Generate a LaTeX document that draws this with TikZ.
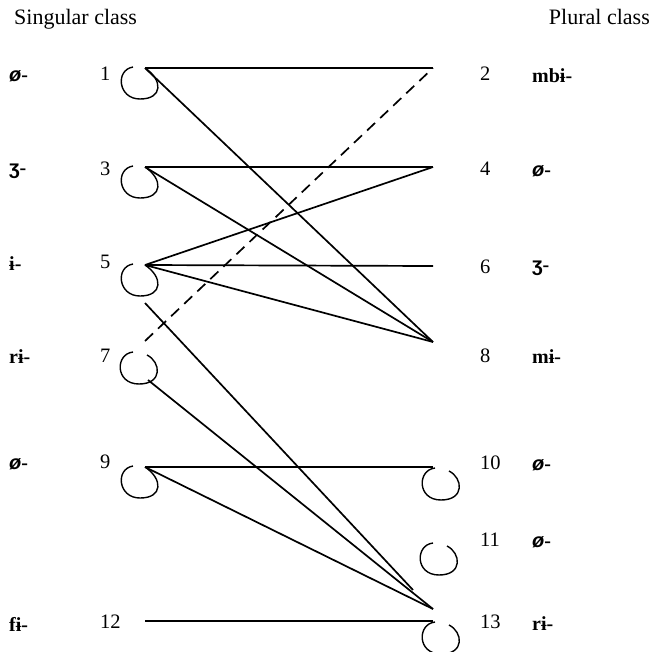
\documentclass[tikz,border=0pt]{standalone}
\usepackage{fontspec}
\setmainfont{Liberation Serif}
\newfontfamily\ipasans{Liberation Sans}
\usetikzlibrary{positioning}
\newcommand\nullpre{{\ipasans\itshape ø}}
\newcommand\ezhpre{{\ipasans ʒ}}

\begin{document}
\begin{tikzpicture}[x=1pt,y=-1pt,
 num/.style={anchor=west,inner sep=0pt,font=\fontsize{20.5}{24}\selectfont},
 affix/.style={anchor=west,inner sep=0pt,font=\fontsize{20}{24}\selectfont\bfseries},
 title/.style={anchor=base west,inner sep=0pt,font=\fontsize{22}{26}\selectfont},
 link/.style={line width=1.7pt},
 hookline/.style={line width=1.4pt}]
 \useasboundingbox (0,0) rectangle (653,651);
 % headings
 \node[title] (sg) at (14,24) {Singular class};
 \node[title,anchor=base east] (pl) at (650,24) {Plural class};
 % class numbers
 \foreach \n/\y in {1/74,3/169,5/262,7/356,9/462,12/622}
  \node[num] (n\n) at (100,\y) {\n};
 \foreach \n/\y in {2/74,4/169,6/267,8/356,10/463,11/540,13/622}
  \node[num] (n\n) at (480,\y) {\n};
 % prefixes
 \foreach \n/\y/\t in {1/76/\nullpre-,3/171/\ezhpre-,5/264/ɨ-,7/357/rɨ-,9/464/\nullpre-,12/624/fɨ-}
  \node[affix] (pre\n) at (9,\y) {\t};
 \foreach \n/\y/\t in {2/76/mbɨ-,4/171/\nullpre-,6/268/\ezhpre-,8/357/mɨ-,10/465/\nullpre-,11/542/\nullpre-,13/624/rɨ-}
  \node[affix] (pre\n) at (532,\y) {\t};
 % link points
 \coordinate (s1) at (145,68);
 \coordinate (s3) at (145,167);
 \coordinate (s5) at (145,265);
 \coordinate (s5b) at (145,303);
 \coordinate (s7) at (145,341);
 \coordinate (s7b) at (148,380);
 \coordinate (s9) at (145,467);
 \coordinate (s12) at (145,621);
 \coordinate (p2) at (433,68);
 \coordinate (p4) at (433,167);
 \coordinate (p6) at (433,266);
 \coordinate (p8) at (433,342);
 \coordinate (p10) at (433,467);
 \coordinate (p13) at (433,621);
 \coordinate (p13a) at (433,609);
 \coordinate (p13b) at (413,590);
 \coordinate (c7) at (139,368);
 \coordinate (c10) at (441,484);
 \coordinate (c11) at (439,559);
 \coordinate (c13) at (441,638);
 % links
 \draw[link] (s1) -- (p2);
 \draw[link] (s1) -- (p8);
 \draw[link] (s3) -- (p4);
 \draw[link] (s3) -- (p8);
 \draw[link] (s5) -- (p4);
 \draw[link] (s5) -- (p6);
 \draw[link] (s5) -- (p8);
 \draw[link] (s5b) -- (p13b);
 \draw[link,dash pattern=on 11pt off 7pt] (s7) -- (p2);
 \draw[link] (s7b) -- (p13a);
 \draw[link] (s9) -- (p10);
 \draw[link] (s9) -- (p13a);
 \draw[link] (s12) -- (p13);
 % loops
 \foreach \n in {s1,s3,s5,s9}
  \draw[hookline,shift={(\n)}] (-12,-1) .. controls (-30,2) and (-27,31) .. (-5,31)
   .. controls (18,31) and (18,12) .. (0,0);
 \foreach \c in {c7,c10,c11,c13}
  \draw[hookline,shift={(\c)}] (-6,-16) .. controls (-24,-14) and (-24,16) .. (0,16)
   .. controls (24,16) and (22,-6) .. (8,-13);
\end{tikzpicture}
\end{document}
